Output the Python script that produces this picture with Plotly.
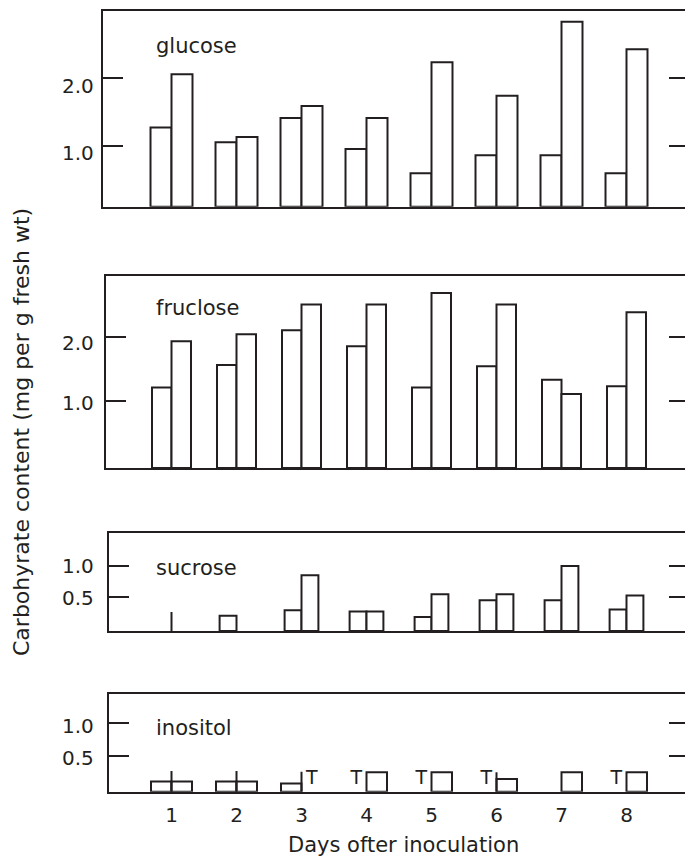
import plotly.graph_objects as go

# ---------------- data ----------------
days = [1, 2, 3, 4, 5, 6, 7, 8]
x_tick_labels = ["1", "2", "3", "4", "5", "6", "7", "8"]

glucose_a = [1.27, 1.05, 1.41, 0.95, 0.59, 0.86, 0.86, 0.59]
glucose_b = [2.06, 1.13, 1.59, 1.41, 2.24, 1.74, 2.84, 2.43]

fruclose_a = [1.21, 1.56, 2.10, 1.85, 1.21, 1.54, 1.33, 1.23]
fruclose_b = [1.93, 2.04, 2.50, 2.50, 2.68, 2.50, 1.11, 2.38]

sucrose_a = [None, 0.19, 0.28, 0.26, 0.17, 0.44, 0.44, 0.29]
sucrose_b = [None, None, 0.85, 0.26, 0.54, 0.54, 1.00, 0.52]

inositol_a = [0.11, 0.11, 0.08, None, None, None, None, None]
inositol_b = [0.11, 0.11, None, 0.25, 0.25, 0.15, 0.25, 0.25]

# single vertical marks drawn between the paired bars
sucrose_mark_days = [1]
sucrose_marks = [0.25]
inositol_mark_days = [1, 2, 3, 6]
inositol_marks = [0.27, 0.27, 0.26, 0.25]

# "T" (trace amount) entries for inositol
inositol_trace_a_days = [4, 5, 6, 8]
inositol_trace_b_days = [3]
trace_level = 0.15

panel_names = ["glucose", "fruclose", "sucrose", "inositol"]
panel_ticks = [[1.0, 2.0], [1.0, 2.0], [0.5, 1.0], [0.5, 1.0]]
panel_tick_text = [["1.0", "2.0"], ["1.0", "2.0"], ["0.5", "1.0"], ["0.5", "1.0"]]
y_title = "Carbohyrate content (mg per g fresh wt)"
x_title = "Days ofter inoculation"

# ---------------- layout geometry ----------------
W, H = 685, 857
INK = "#231f20"
FONT = "DejaVu Sans"
# (top px, bottom px, left px)
geom = [(10.5, 206.7, 103.3), (276, 468, 106), (532.7, 631, 109), (694, 791.7, 109)]
yranges = [(0.095, 3.006), (-0.042, 2.944), (-0.059, 1.542), (-0.046, 1.448)]
bar_w = [0.323, 0.30, 0.26, 0.315]
label_base = [53.3, 315, 575, 735]
# downward shift (px) of each tick label relative to its tick (scan offsets)
tick_label_drop = [[7.5, 7.5], [1.5, 6.0], [1.0, 0.5], [2.0, 3.0]]
TICK_LABEL_RIGHT = 95.5
DAY1_PX, PX_PER_DAY = 171.5, 65.0

series = [(glucose_a, glucose_b), (fruclose_a, fruclose_b),
          (sucrose_a, sucrose_b), (inositol_a, inositol_b)]
marks = [([], []), ([], []), (sucrose_mark_days, sucrose_marks),
         (inositol_mark_days, inositol_marks)]

fig = go.Figure()
layout = dict(
    width=W, height=H, margin=dict(l=0, r=0, t=0, b=0),
    paper_bgcolor="white", plot_bgcolor="white",
    showlegend=False, barmode="overlay",
    font=dict(family=FONT, size=21, color=INK),
    annotations=[],
)

for i in range(4):
    n = i + 1
    xs = "" if n == 1 else str(n)
    xa, ya = "x" + xs, "y" + xs
    top, bot, left = geom[i]
    ymin, ymax = yranges[i]
    w = bar_w[i]
    a_vals, b_vals = series[i]

    for vals, off in ((a_vals, -w), (b_vals, 0.0)):
        xd = [d for d, v in zip(days, vals) if v is not None]
        yd = [v - ymin for v in vals if v is not None]
        fig.add_trace(go.Bar(
            x=xd, y=yd, base=ymin, width=w, offset=off,
            marker=dict(color="white", line=dict(color=INK, width=2)),
            xaxis=xa, yaxis=ya, hoverinfo="skip"))

    md, mv = marks[i]
    if md:
        lx, ly = [], []
        for d, v in zip(md, mv):
            lx += [d, d, None]
            ly += [ymin, v, None]
        fig.add_trace(go.Scatter(x=lx, y=ly, mode="lines",
                                 line=dict(color=INK, width=2),
                                 xaxis=xa, yaxis=ya, hoverinfo="skip"))

    # empty trace for the right-hand tick axis
    fig.add_trace(go.Scatter(x=[], y=[], xaxis=xa, yaxis="y" + str(n + 4),
                             hoverinfo="skip"))

    x0 = 1 - (DAY1_PX - left) / PX_PER_DAY
    x1 = 1 + (W - DAY1_PX) / PX_PER_DAY
    dom_y = [1 - bot / H, 1 - top / H]
    layout["xaxis" + xs] = dict(
        domain=[left / W, 1], range=[x0, x1], anchor=ya,
        showline=True, mirror=True, linecolor=INK, linewidth=2,
        showgrid=False, zeroline=False, ticks="",
        tickvals=days, ticktext=x_tick_labels,
        showticklabels=(n == 4), ticklabelstandoff=4,
        tickfont=dict(family=FONT, size=20, color=INK))
    layout["yaxis" + xs] = dict(
        domain=dom_y, range=[ymin, ymax], anchor=xa,
        showline=True, linecolor=INK, linewidth=2,
        showgrid=False, zeroline=False,
        ticks="inside", ticklen=20, tickwidth=2, tickcolor=INK,
        tickvals=panel_ticks[i], showticklabels=False)
    layout["yaxis" + str(n + 4)] = dict(
        overlaying=ya, side="right", anchor=xa, range=[ymin, ymax],
        showline=False, showgrid=False, zeroline=False,
        ticks="inside", ticklen=16, tickwidth=2, tickcolor=INK,
        tickvals=panel_ticks[i], showticklabels=False)

    # y tick labels (placed as text next to each tick)
    for tv, tt, drop in zip(panel_ticks[i], panel_tick_text[i], tick_label_drop[i]):
        layout["annotations"].append(dict(
            text=tt, xref="paper", yref=ya, x=TICK_LABEL_RIGHT / W, y=tv,
            xanchor="right", yanchor="middle", yshift=-drop, showarrow=False,
            font=dict(family=FONT, size=20, color=INK)))

    layout["annotations"].append(dict(
        text=panel_names[i], xref="paper", yref="paper",
        x=154 / W, y=1 - (label_base[i] - 7.0) / H,
        xanchor="left", yanchor="middle", showarrow=False,
        font=dict(family=FONT, size=21, color=INK)))

# "T" markers for trace amounts (inositol)
w4 = bar_w[3]
tx = [d - w4 / 2 for d in inositol_trace_a_days] + [d + w4 / 2 for d in inositol_trace_b_days]
fig.add_trace(go.Scatter(x=tx, y=[trace_level] * len(tx), mode="text",
                         text=["T"] * len(tx), textposition="middle center",
                         textfont=dict(family=FONT, size=19, color=INK),
                         xaxis="x4", yaxis="y4", hoverinfo="skip"))

layout["annotations"].append(dict(
    text=y_title, xref="paper", yref="paper", x=21 / W, y=1 - 432 / H,
    xanchor="center", yanchor="middle", textangle=-90, showarrow=False,
    font=dict(family=FONT, size=22, color=INK)))
layout["annotations"].append(dict(
    text=x_title, xref="paper", yref="paper", x=403 / W, y=1 - 845 / H,
    xanchor="center", yanchor="middle", showarrow=False,
    font=dict(family=FONT, size=21, color=INK)))

fig.update_layout(**layout)
fig.write_html("out.html")
